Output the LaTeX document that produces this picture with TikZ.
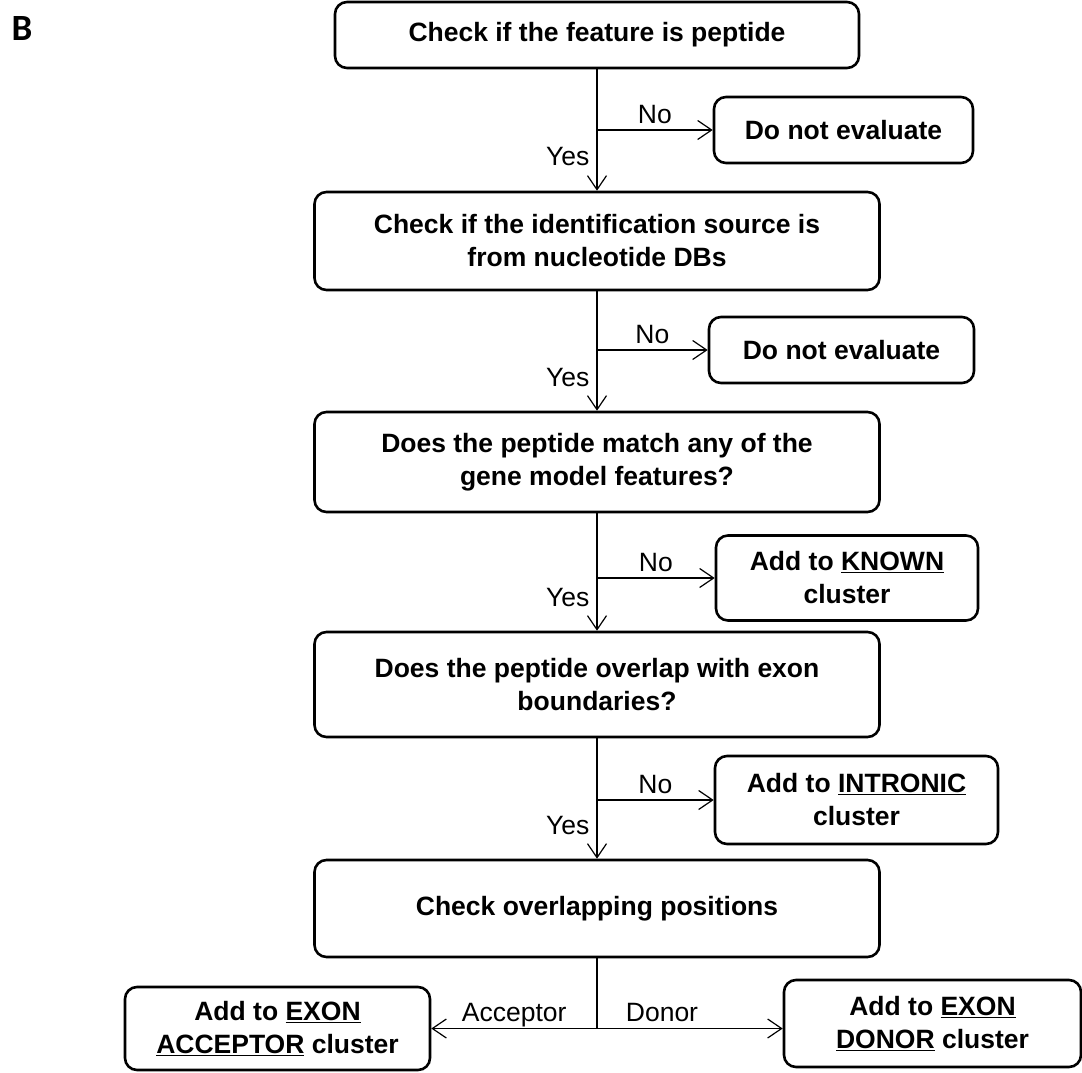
\documentclass[tikz,border=0pt]{standalone}
\usepackage{fontspec}
\setmainfont{Liberation Sans}
\newfontfamily\panelfont{Carlito}
\usetikzlibrary{arrows.meta}
\tikzset{
  stepbox/.style={draw,line width=2.6pt,rounded corners=12pt,align=center,
    inner sep=3pt,font=\bfseries\fontsize{26.5}{33}\selectfont},
  flow/.style={line width=1.2pt,-{Straight Barb[length=14pt,width=19pt]}},
  lbl/.style={font=\fontsize{26.5}{30}\selectfont,inner sep=0pt,text depth=0pt},
}
\begin{document}
\begin{tikzpicture}[x=1pt,y=-1pt]
  \useasboundingbox (0,0) rectangle (1082,1072);
  \node[font=\panelfont\bfseries\fontsize{37}{37}\selectfont] (panel) at (22,28) {B};
  % main column
  \node[stepbox,minimum width=524pt,minimum height=66pt] (feat) at (597,35) {Check if the feature is peptide};
  \node[stepbox,minimum width=565pt,minimum height=98pt] (src) at (597,241) {Check if the identification source is\\from nucleotide DBs};
  \node[stepbox,minimum width=565pt,minimum height=100pt] (match) at (597,462) {Does the peptide match any of the\\gene model features?};
  \node[stepbox,minimum width=565pt,minimum height=105pt] (bound) at (597,684.5) {Does the peptide overlap with exon\\boundaries?};
  \node[stepbox,minimum width=565pt,minimum height=97pt] (pos) at (597,908.5) {Check overlapping positions};
  % side boxes
  \node[stepbox,minimum width=259pt,minimum height=66pt] (skipA) at (843.5,130) {Do not evaluate};
  \node[stepbox,minimum width=265pt,minimum height=66pt] (skipB) at (841.5,350) {Do not evaluate};
  \node[stepbox,minimum width=262pt,minimum height=85pt] (known) at (847,578) {Add to \underline{KNOWN}\\cluster};
  \node[stepbox,minimum width=283pt,minimum height=88pt] (intron) at (856.5,800) {Add to \underline{INTRONIC}\\cluster};
  \node[stepbox,minimum width=305pt,minimum height=83pt] (acc) at (277.5,1028.5) {Add to \underline{EXON}\\\underline{ACCEPTOR} cluster};
  \node[stepbox,minimum width=297pt,minimum height=87pt] (don) at (932.5,1023.5) {Add to \underline{EXON}\\\underline{DONOR} cluster};

  % yes / no connectors
  \draw[flow] (feat) -- node[lbl,pos=0.72,left=7pt] {Yes} (src);
  \draw[flow] (feat.south |- skipA.west) -- node[lbl,above=6pt] {No} (skipA.west);
  \draw[flow] (src) -- node[lbl,pos=0.72,left=7pt] {Yes} (match);
  \draw[flow] (src.south |- skipB.west) -- node[lbl,above=6pt] {No} (skipB.west);
  \draw[flow] (match) -- node[lbl,pos=0.72,left=7pt] {Yes} (bound);
  \draw[flow] (match.south |- known.west) -- node[lbl,above=6pt] {No} (known.west);
  \draw[flow] (bound) -- node[lbl,pos=0.72,left=7pt] {Yes} (pos);
  \draw[flow] (bound.south |- intron.west) -- node[lbl,above=6pt] {No} (intron.west);

  % acceptor / donor split
  \coordinate (split) at (pos.south |- acc.east);
  \draw[line width=1.2pt] (pos) -- (split);
  \draw[flow] (split) -- node[lbl,above=6pt] {Acceptor} (acc.east);
  \draw[flow] (split) -- node[lbl,above=6pt,pos=0.35] {Donor} (split -| don.west);
\end{tikzpicture}
\end{document}
